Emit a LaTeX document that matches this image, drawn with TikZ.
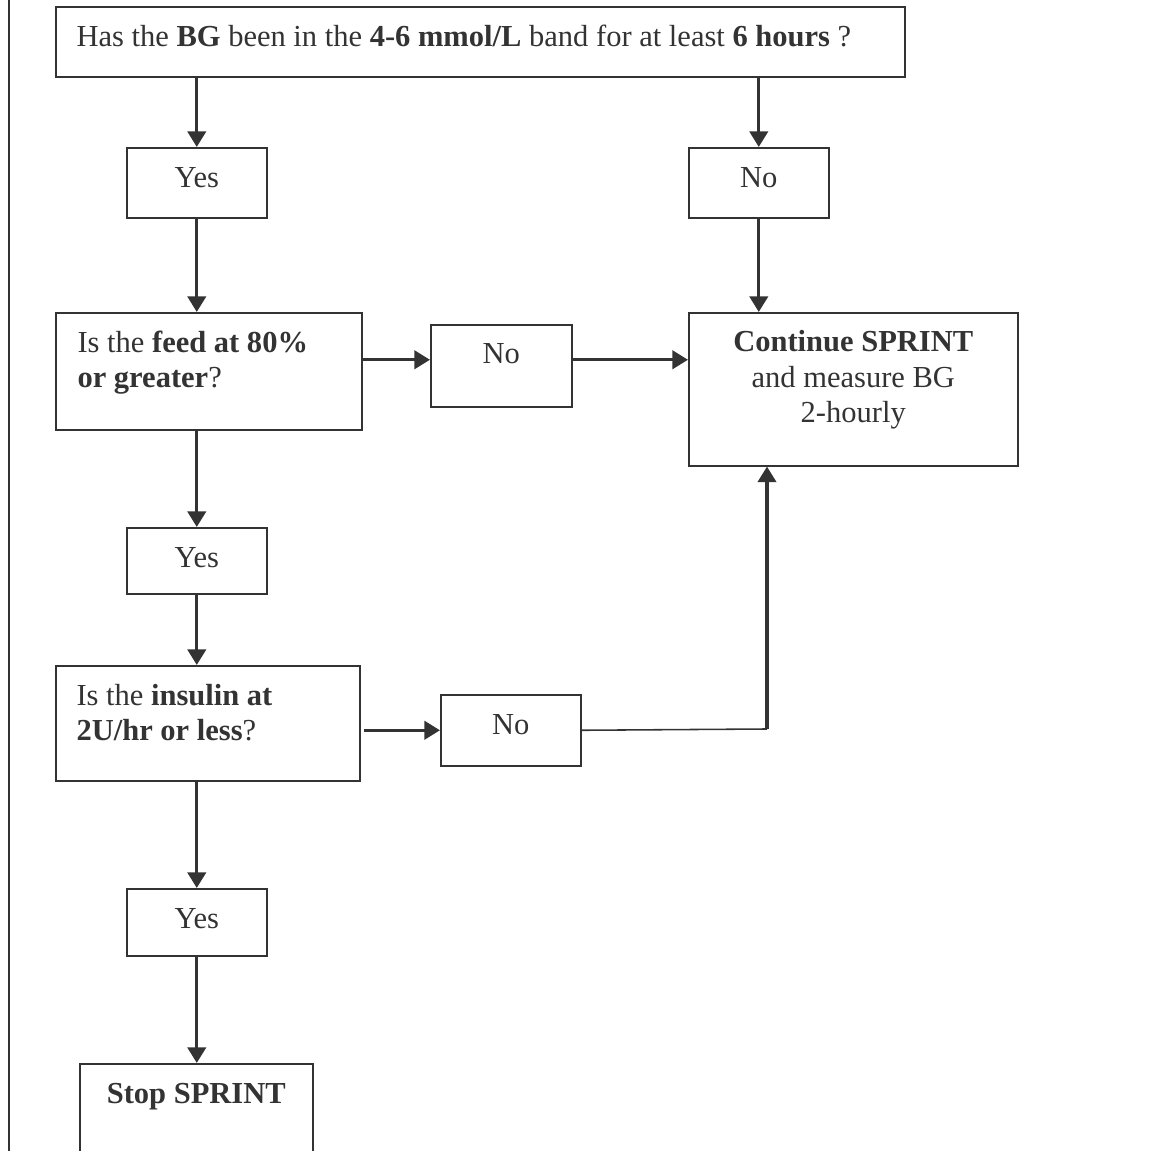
\documentclass[tikz,border=0pt]{standalone}
\usepackage{fontspec}
\setmainfont{Liberation Serif}
\usepackage{tikz}
\usepackage{xcolor}
\usetikzlibrary{arrows.meta, positioning, calc}

\definecolor{ink}{HTML}{333333}

\begin{document}
\begin{tikzpicture}[x=0.385pt, y=-0.385pt,
    box/.style={draw=ink, line width=0.6pt, anchor=north west, inner sep=0pt},
    sz/.style 2 args={minimum width=#1*0.385pt, minimum height=#2*0.385pt},
    txt/.style={inner sep=0pt, text=ink, font=\fontsize{11.75}{13.85}\selectfont},
    arr/.style={draw=ink, line width=1.3pt, -{Triangle[length=6pt, width=7pt]}},
    link/.style={draw=ink, line width=0.6pt}]
\useasboundingbox (0,0) rectangle (1155,1151);

\draw[link] (9,0) -- (9,1151);

% question boxes
\node[box, sz={849}{70}] (q) at (55,6) {};
\node[txt, anchor=base west] (qtext) at ([shift={(21,41)}]q.north west)
    {Has the \textbf{BG} been in the \textbf{4-6 mmol/L} band for at least \textbf{6 hours} ?};

\node[box, sz={306}{117}] (feed) at (55,312) {};
\node[txt, anchor=base west, align=left] (feedtext) at ([shift={(22,76)}]feed.north west)
    {Is the \textbf{feed at 80\%}\\ \textbf{or greater}?};

\node[box, sz={304}{115}] (ins) at (55,665) {};
\node[txt, anchor=base west, align=left] (instext) at ([shift={(21,76)}]ins.north west)
    {Is the \textbf{insulin at}\\ \textbf{2U/hr or less}?};

% answer boxes
\node[box, sz={140}{70}] (yes1) at (126,147) {};
\node[txt, anchor=base] (yes1text) at ([yshift=-41*0.385pt]yes1.north) {Yes};
\node[box, sz={140}{70}] (no1) at (688,147) {};
\node[txt, anchor=base] (no1text) at ([yshift=-41*0.385pt]no1.north) {No};

\node[box, sz={141}{82}] (no2) at (430,324) {};
\node[txt, anchor=base] (no2text) at ([yshift=-40*0.385pt]no2.north) {No};
\node[box, sz={140}{66}] (yes2) at (126,527) {};
\node[txt, anchor=base] (yes2text) at ([yshift=-41*0.385pt]yes2.north) {Yes};

\node[box, sz={140}{71}] (no3) at (440,694) {};
\node[txt, anchor=base] (no3text) at ([yshift=-41*0.385pt]no3.north) {No};
\node[box, sz={140}{67}] (yes3) at (126,888) {};
\node[txt, anchor=base] (yes3text) at ([yshift=-41*0.385pt]yes3.north) {Yes};

% outcomes
\node[box, sz={329}{153}] (cont) at (688,312) {};
\node[txt, anchor=base, align=center] (conttext) at ([yshift=-111*0.385pt]cont.north)
    {\textbf{Continue SPRINT}\\ and measure BG\\ 2-hourly};
\node[box, sz={233}{130}] (stop) at (79,1063) {};
\node[txt, anchor=base] (stoptext) at ([yshift=-41*0.385pt]stop.north) {\textbf{Stop SPRINT}};

% connectors
\draw[arr] (yes1.north |- q.south) -- (yes1.north);
\draw[arr] (no1.north |- q.south) -- (no1.north);
\draw[arr] (no1.south) -- (no1.south |- cont.north);
\draw[arr] (yes1.south) -- (yes1.south |- feed.north);

\coordinate (feedno) at ([yshift=6*0.385pt]no2.west);
\draw[arr] (feed.east |- feedno) -- (feedno);
\draw[arr] (no2.east |- feedno) -- (cont.west |- feedno);

\draw[arr] (yes2.north |- feed.south) -- (yes2.north);
\draw[arr] (yes2.south) -- (yes2.south |- ins.north);

\draw[arr] ([xshift=3*0.385pt]ins.east |- no3.west) -- (no3.west);
\coordinate (bend) at (767,729);
\draw[link] (no3.east) -- (bend);
\draw[arr] (bend) -- (bend |- cont.south);

\draw[arr] (yes3.north |- ins.south) -- (yes3.north);
\draw[arr] (yes3.south) -- (yes3.south |- stop.north);
\end{tikzpicture}
\end{document}
